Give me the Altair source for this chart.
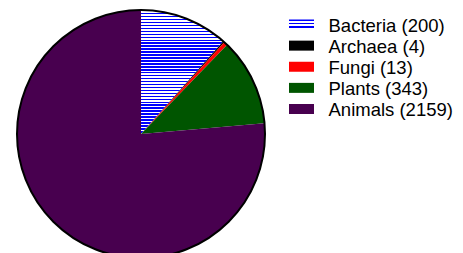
import math
import altair as alt
import pandas as pd

# Categories, counts (legend text) and slice shares (degrees of the pie)
taxa = ["Bacteria", "Archaea", "Fungi", "Plants", "Animals"]
counts = [200, 4, 13, 343, 2159]
slice_share = [41.6, 0.6, 1.8, 41.0, 275.0]
colors = ["#ffffff", "#000000", "#ff0000", "#005500", "#48004f"]

df = pd.DataFrame({
    "taxon": taxa,
    "count": counts,
    "share": slice_share,
    "idx": list(range(len(taxa))),
})
df["label"] = [f"{t} ({c})" for t, c in zip(taxa, counts)]

CX, CY, R = 133, 126, 124


def stripes(n, c1="#0000ff", c2="#ffffff"):
    stops = []
    for i in range(n):
        a = i / n
        m = (i + 0.5) / n
        b = (i + 1) / n
        stops += [
            {"offset": a, "color": c1},
            {"offset": m, "color": c1},
            {"offset": m, "color": c2},
            {"offset": b, "color": c2},
        ]
    return {"gradient": "linear", "x1": 0, "y1": 0, "x2": 0, "y2": 1, "stops": stops}


color_scale = alt.Scale(domain=taxa, range=colors)

pie = alt.Chart(df).mark_arc(radius=R, stroke=None).encode(
    theta=alt.Theta("share:Q", stack=True),
    order=alt.Order("idx:Q"),
    color=alt.condition(
        "datum.taxon === 'Bacteria'",
        alt.value(stripes(42)),
        alt.Color("taxon:N", scale=color_scale, legend=None),
    ),
    x=alt.value(CX),
    y=alt.value(CY),
)

rim = alt.Chart(df).transform_filter("datum.idx === 0").mark_arc(
    radius=R, fill=None, filled=False, stroke="black", strokeWidth=2
).encode(
    theta=alt.value(0),
    theta2=alt.value(2 * math.pi),
    x=alt.value(CX),
    y=alt.value(CY),
)

ypos = alt.Y("taxon:N", sort=taxa,
             scale=alt.Scale(type="point", range=[16.5, 101], padding=0), axis=None)

symbols = alt.Chart(df).mark_tick(orient="horizontal", size=25, thickness=10, opacity=1).encode(
    x=alt.value(293.5),
    y=ypos,
    color=alt.condition(
        "datum.taxon === 'Bacteria'",
        alt.value(stripes(3)),
        alt.Color("taxon:N", scale=color_scale, legend=None),
    ),
)

texts = alt.Chart(df).mark_text(
    align="left", baseline="middle", font="Liberation Sans", fontSize=18.5, color="black", dy=1
).encode(
    x=alt.value(320.5),
    y=ypos,
    text="label:N",
)

chart = alt.layer(pie, rim, symbols, texts).properties(
    width=447, height=245, padding=0, autosize=alt.AutoSizeParams(type="none")
).configure_view(stroke=None)

chart.save("out.html", embed_options={"renderer": "svg", "actions": False})
